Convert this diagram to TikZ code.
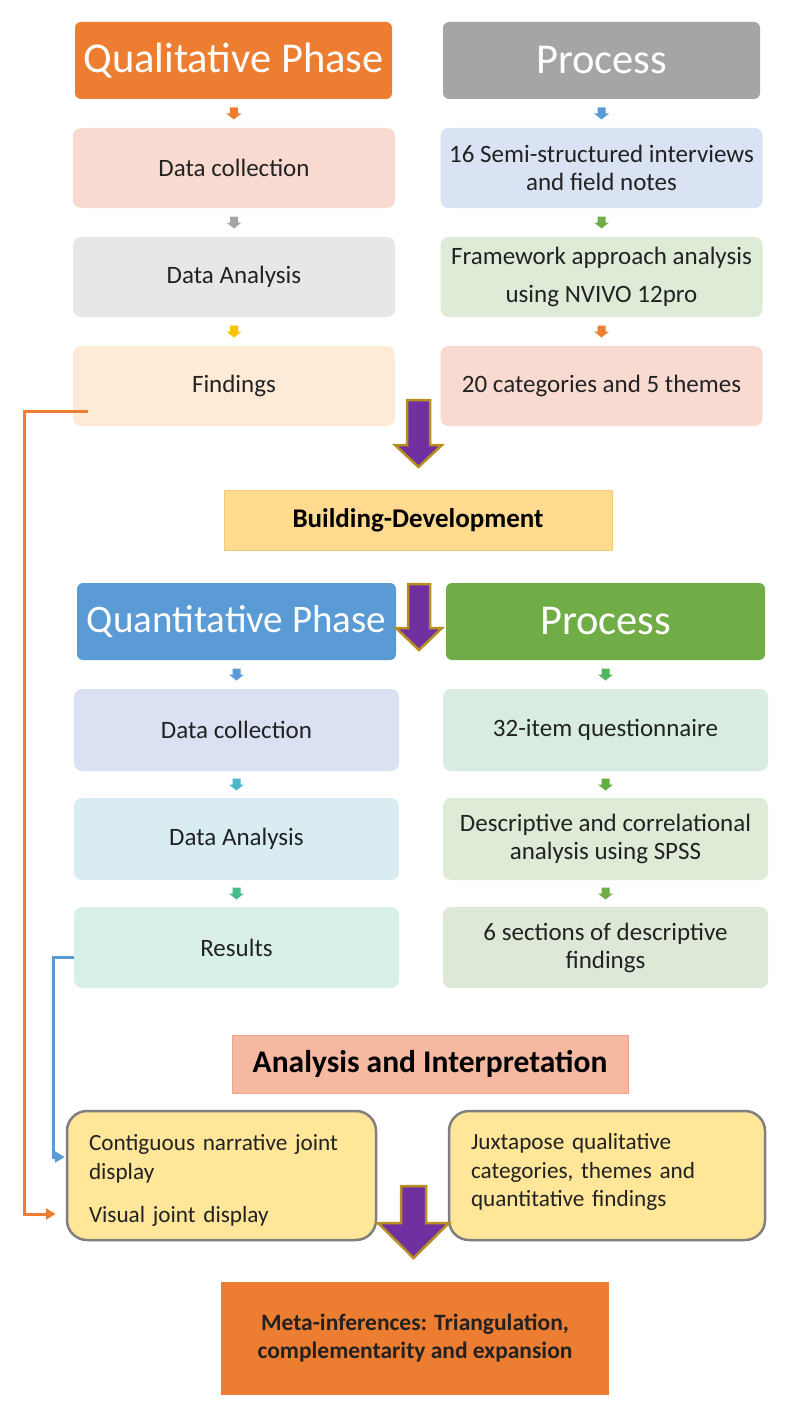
\documentclass[tikz,border=0pt]{standalone}
\usepackage{fontspec}
\setmainfont{Carlito}
\usetikzlibrary{calc,arrows.meta}
\definecolor{qorange}{HTML}{ED7D31}
\definecolor{pgray}{HTML}{A5A5A5}
\definecolor{qblue}{HTML}{5B9BD5}
\definecolor{qgreen}{HTML}{70AD47}
\definecolor{pinkL}{HTML}{F9DAD1}
\definecolor{blueL}{HTML}{DAE3F3}
\definecolor{grayL}{HTML}{E7E7E7}
\definecolor{greenL}{HTML}{DDEBD7}
\definecolor{peachL}{HTML}{FDEBD8}
\definecolor{lavL}{HTML}{D9E1F2}
\definecolor{mintL}{HTML}{D8EDDF}
\definecolor{skyL}{HTML}{D8ECF2}
\definecolor{tealL}{HTML}{D9F0EA}
\definecolor{sageL}{HTML}{DDE9D6}
\definecolor{bdfill}{HTML}{FFDA8F}
\definecolor{bddraw}{HTML}{F5C77E}
\definecolor{aifill}{HTML}{F5B8A0}
\definecolor{aidraw}{HTML}{EFA488}
\definecolor{yfill}{HTML}{FFE699}
\definecolor{ydraw}{HTML}{7F7F7F}
\definecolor{purp}{HTML}{7030A0}
\definecolor{gold}{HTML}{B8901F}
\definecolor{txt}{HTML}{222222}
\definecolor{gold2}{HTML}{FFC000}
\definecolor{grn2}{HTML}{52B45E}
\definecolor{teal2}{HTML}{4BB8CC}
\definecolor{grn3}{HTML}{5FAE3E}
\definecolor{sea2}{HTML}{45BC8D}
\begin{document}
\begin{tikzpicture}[x=1pt,y=-1pt,
  hdr/.style={rounded corners=6pt, text=white, font=\fontsize{42.5}{48}\selectfont, inner sep=0pt, minimum width=317pt, minimum height=77pt},
  box/.style={rounded corners=8pt, text=txt, font=\fontsize{25}{28}\selectfont, inner sep=0pt, minimum width=322pt, minimum height=80pt, align=center},
  qbox/.style={box, minimum width=325pt, minimum height=82pt},
  ybox/.style={rounded corners=20pt, fill=yfill, draw=ydraw, line width=2.5pt, text=txt, font=\fontsize{23.2}{28.5}\selectfont, inner sep=0pt, align=left},
  sarr/.pic={\fill (-4,-6) -- (4,-6) -- (4,0) -- (7.5,0) -- (0,6) -- (-7.5,0) -- (-4,0) -- cycle;},
  bigarr/.style={fill=purp, draw=gold, line width=2.5pt, line join=miter},
  conn/.style={line width=3pt, -{Triangle[length=10pt,width=11pt]}}
]
\useasboundingbox (0,0) rectangle (788,1418);
\fill[white] (0,0) rectangle (788,1418);

% Qualitative column
\node[hdr,fill=qorange] (qh) at (233.5,60.5) {Qualitative Phase};
\node[hdr,fill=pgray] (qph) at (601.5,60.5) {Process};
\node[box,fill=pinkL] (qdc) at (234,168) {Data collection};
\node[box,fill=blueL] (qp1) at (601.5,168) {16 Semi-structured interviews\\and field notes};
\node[box,fill=grayL] (qda) at (234,277) {Data Analysis};
\node[box,fill=greenL] (qp2) at (601.5,277) {Framework approach analysis\\[10pt]using NVIVO 12pro};
\node[box,fill=peachL] (qfind) at (234,386) {Findings};
\node[box,fill=pinkL] (qp3) at (601.5,386) {20 categories and 5 themes};

\pic[color=qorange] at ($(qh.south)!0.5!(qdc.north)$) {sarr};
\pic[color=qblue] at ($(qph.south)!0.5!(qp1.north)$) {sarr};
\pic[color=pgray] at ($(qdc.south)!0.5!(qda.north)$) {sarr};
\pic[color=qgreen] at ($(qp1.south)!0.5!(qp2.north)$) {sarr};
\pic[color=gold2] at ($(qda.south)!0.5!(qfind.north)$) {sarr};
\pic[color=qorange] at ($(qp2.south)!0.5!(qp3.north)$) {sarr};

% Building
\node[draw=bddraw, fill=bdfill, line width=1pt, minimum width=388pt, minimum height=60pt, inner sep=0pt, text=black, font=\fontsize{27}{32}\selectfont\bfseries] (bd) at (418,520) {Building-Development};

% Quantitative column
\node[hdr,fill=qblue,minimum width=319pt,font=\fontsize{39}{46}\selectfont] (nh) at (236.5,621.5) {Quantitative Phase};
\node[hdr,fill=qgreen,minimum width=319pt] (nph) at (605.5,621.5) {Process};
\node[qbox,fill=lavL] (ndc) at (236.5,730) {Data collection};
\node[qbox,fill=mintL] (np1) at (605.5,730) {32-item questionnaire};
\node[qbox,fill=skyL] (nda) at (236.5,839) {Data Analysis};
\node[qbox,fill=greenL] (np2) at (605.5,839) {Descriptive and correlational\\analysis using SPSS};
\node[qbox,fill=tealL,minimum height=81pt] (nres) at (236.5,947.5) {Results};
\node[qbox,fill=sageL,minimum height=81pt] (np3) at (605.5,947.5) {6 sections of descriptive\\findings};

\pic[color=qblue] at ($(nh.south)!0.5!(ndc.north)$) {sarr};
\pic[color=grn2] at ($(nph.south)!0.5!(np1.north)$) {sarr};
\pic[color=teal2] at ($(ndc.south)!0.5!(nda.north)$) {sarr};
\pic[color=grn3] at ($(np1.south)!0.5!(np2.north)$) {sarr};
\pic[color=sea2] at ($(nda.south)!0.5!(nres.north)$) {sarr};
\pic[color=qgreen] at ($(np2.south)!0.5!(np3.north)$) {sarr};

% Analysis and interpretation
\node[draw=aidraw, fill=aifill, line width=1pt, minimum width=396pt, minimum height=58pt, inner sep=0pt, text=black, font=\fontsize{31.5}{36}\selectfont\bfseries] (ai) at (430,1064) {Analysis and Interpretation};

\node[ybox, minimum width=309pt, minimum height=129pt, text width=265pt] (lbox) at (221.5,1175.5) {Contiguous narrative joint\\display\\[15pt]Visual joint display\\[-34.5pt]\mbox{}};
\node[ybox, minimum width=316pt, minimum height=129pt, text width=272pt] (rbox) at (607,1175.5) {Juxtapose qualitative\\categories, themes and\\quantitative findings\\[-18pt]\mbox{}};

% Meta
\node[fill=qorange, minimum width=388pt, minimum height=113pt, inner sep=0pt, align=center, text=txt, font=\fontsize{23.5}{28}\selectfont\bfseries] (meta) at (415,1338.5) {Meta-inferences: Triangulation,\\complementarity and expansion};

% connectors
\draw[conn, qorange] ([shift={(15,25)}]qfind.west) -- ++(-63,0) |- ([shift={(-10,38.5)}]lbox.west);
\draw[conn, qblue] ([shift={(0,9.5)}]nres.west) -- ++(-20,0) |- ([shift={(-1,-18.5)}]lbox.west);

% big purple arrows
\draw[bigarr] (407,400) -- (430,400) -- (430,445) -- (442,445) -- (418.5,467) -- (395,445) -- (407,445) -- cycle;
\draw[bigarr] (408,584) -- (430,584) -- (430,628) -- (442,628) -- (419,650) -- (396,628) -- (408,628) -- cycle;
\draw[bigarr] (401,1186) -- (426,1186) -- (426,1223) -- (449,1223) -- (413.5,1258) -- (378,1223) -- (401,1223) -- cycle;
\end{tikzpicture}
\end{document}
